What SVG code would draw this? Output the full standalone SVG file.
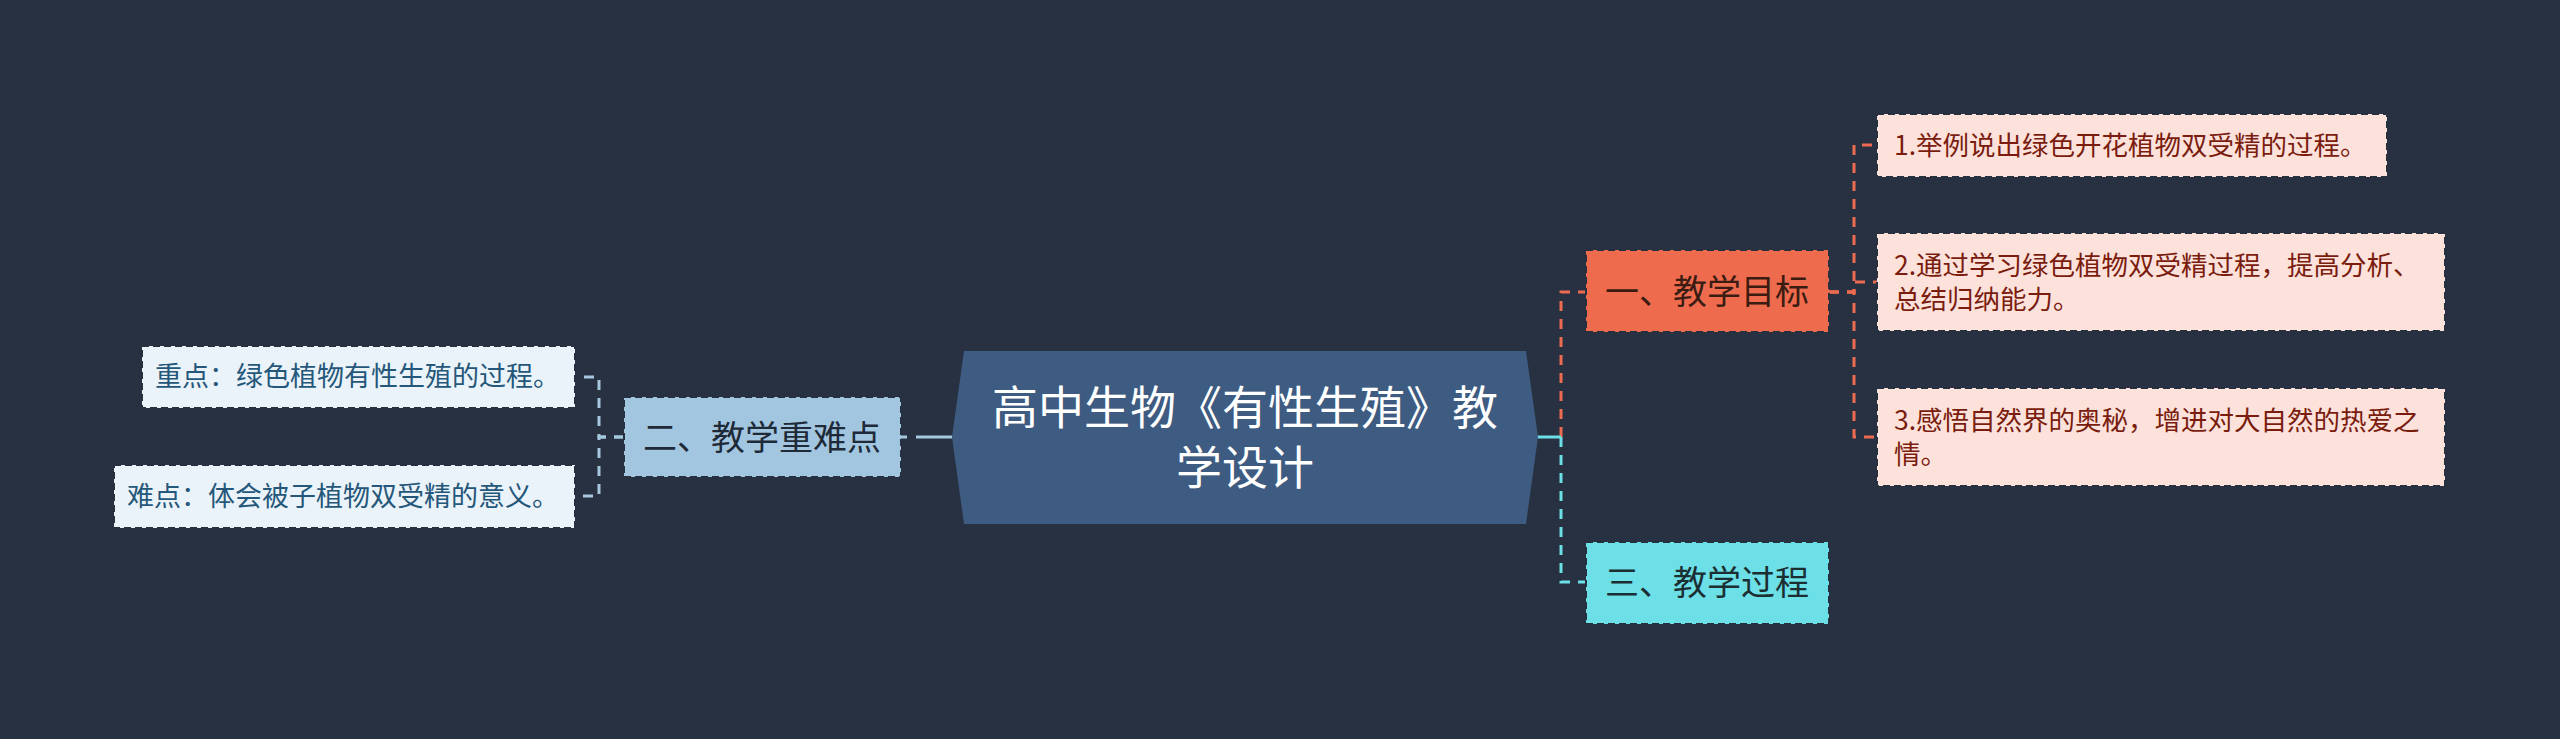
<svg xmlns="http://www.w3.org/2000/svg" width="2560" height="739" viewBox="0 0 2560 739">
<style>
text{font-family:"Noto Sans CJK SC","Noto Sans",sans-serif;}
.box{stroke:#27303f;stroke-width:2;stroke-dasharray:7 4;}
.c{fill:none;stroke-width:3;stroke-dasharray:10 8;}
.solid{fill:none;stroke-width:3;}
.leafL{fill:#eaf3f9;}
.leafR{fill:#fde2dc;}
.tL{font-size:27px;fill:#25577a;}
.tR{font-size:26.5px;fill:#7a1c0e;}
.t1{font-size:34px;text-anchor:middle;}
</style>
<rect width="2560" height="739" fill="#283141"/>
<g id="connectors">
  <path class="solid" stroke="#a5c8df" d="M952,437 H901" style="stroke-dasharray:36 9"/>
  <path class="c" stroke="#a5c8df" d="M624,437 H599 V377 H575"/>
  <path class="c" stroke="#a5c8df" d="M624,437 H599 V496 H575"/>
  <path class="c" stroke="#ec6a4f" d="M1561,437 V292 H1586"/>
  <path class="solid" stroke="#6ddfe6" d="M1537,437 H1561"/>
  <path class="c" stroke="#6ddfe6" d="M1561,437 V582 H1586"/>
  <path class="c" stroke="#ec6a4f" d="M1829,292 H1854 V145 H1877"/>
  <path class="c" stroke="#ec6a4f" d="M1829,292 H1854 V282 H1877"/>
  <path class="c" stroke="#ec6a4f" d="M1829,292 H1854 V437 H1877"/>
</g>
<g id="root">
  <polygon points="952,437 964,351 1526,351 1538,437 1526,524 964,524" fill="#3e5b81"/>
  <text x="1245" y="424" font-size="46" fill="#ffffff" text-anchor="middle">高中生物《有性生殖》教</text>
  <text x="1245" y="484" font-size="46" fill="#ffffff" text-anchor="middle">学设计</text>
</g>
<g id="n2">
  <rect class="box" x="624" y="397" width="277" height="80" fill="#a2c6df"/>
  <text class="t1" x="762" y="450" fill="#1e2a38">二、教学重难点</text>
</g>
<g id="n2a">
  <rect class="box leafL" x="142" y="346" width="433" height="62"/>
  <text class="tL" x="155" y="386">重点：绿色植物有性生殖的过程。</text>
</g>
<g id="n2b">
  <rect class="box leafL" x="114" y="465" width="461" height="63"/>
  <text class="tL" x="127" y="506">难点：体会被子植物双受精的意义。</text>
</g>
<g id="n1">
  <rect class="box" x="1586" y="250" width="243" height="82" fill="#ef6b4e"/>
  <text class="t1" x="1707" y="304" fill="#3a1c12">一、教学目标</text>
</g>
<g id="n1a">
  <rect class="box leafR" x="1877" y="114" width="510" height="63"/>
  <text class="tR" x="1894" y="155">1.举例说出绿色开花植物双受精的过程。</text>
</g>
<g id="n1b">
  <rect class="box leafR" x="1877" y="233" width="568" height="98"/>
  <text class="tR" x="1894" y="275">2.通过学习绿色植物双受精过程，提高分析、</text>
  <text class="tR" x="1894" y="309">总结归纳能力。</text>
</g>
<g id="n1c">
  <rect class="box leafR" x="1877" y="388" width="568" height="98"/>
  <text class="tR" x="1894" y="430">3.感悟自然界的奥秘，增进对大自然的热爱之</text>
  <text class="tR" x="1894" y="464">情。</text>
</g>
<g id="n3">
  <rect class="box" x="1586" y="542" width="243" height="82" fill="#6ddfe6"/>
  <text class="t1" x="1707" y="595" fill="#1b2f33">三、教学过程</text>
</g>
</svg>
